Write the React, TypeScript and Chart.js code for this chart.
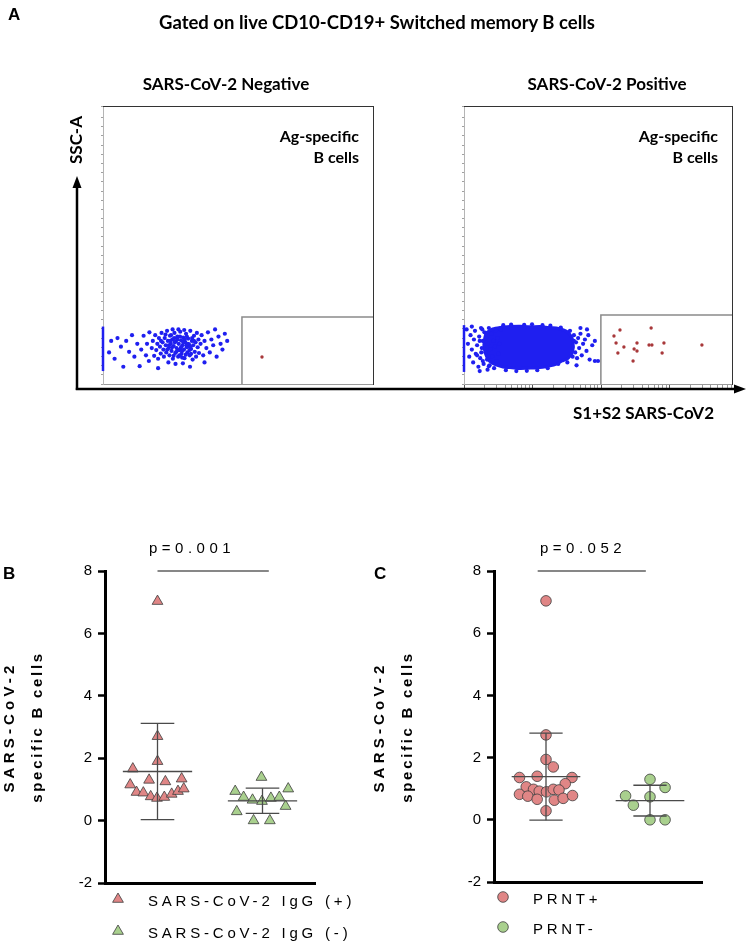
import React, { useEffect, useRef } from "react";
import { Chart, registerables } from "chart.js";

Chart.register(...registerables);

// ================= Panel A : flow cytometry dot plots (channel units) =================
const fluorChannelMax = 1024;
const sscChannelMax = 968;

// SARS-CoV-2 Negative donor
const negCloud: number[][] = [
  [23, 110], [31, 150], [44, 88], [55, 160], [68, 130], [77, 60], [88, 150], [99, 112], [110, 170],
  [119, 95], [130, 140], [139, 62], [145, 120], [154, 168], [163, 100], [167, 140], [174, 80], [176, 180],
  [185, 125], [189, 150], [194, 98], [198, 170], [202, 118], [206, 140], [209, 88], [212, 160], [216, 130],
  [219, 106], [222, 178], [226, 145], [229, 120], [231, 95], [234, 160], [238, 135], [240, 110], [243, 185],
  [246, 150], [249, 125], [252, 100], [254, 168], [257, 140], [260, 115], [263, 155], [265, 88], [268, 132],
  [271, 178], [274, 108], [276, 148], [279, 125], [282, 165], [285, 95], [287, 140], [290, 118], [293, 182],
  [296, 152], [298, 105], [301, 135], [304, 162], [307, 120], [309, 90], [312, 145], [315, 175], [318, 128],
  [320, 110], [323, 158], [326, 138], [329, 100], [331, 185], [334, 122], [337, 150], [340, 85], [342, 135],
  [345, 168], [348, 112], [351, 145], [353, 95], [356, 178], [359, 128], [362, 155], [364, 108],
  [264, 190], [286, 190], [308, 188], [248, 75], [275, 70], [303, 72], [220, 150], [237, 172], [270, 160],
  [314, 102], [370, 140], [374, 170], [380, 100], [385, 150], [392, 125], [398, 180], [405, 110], [411, 155],
  [418, 135], [425, 190], [431, 95], [438, 165], [446, 140], [453, 120], [462, 175], [471, 150], [330, 60],
  [209, 55], [385, 75],
  [250, 135], [262, 128], [272, 145], [285, 118], [296, 128], [305, 145], [316, 135], [328, 118], [338, 160],
  [258, 170], [278, 112], [292, 165], [300, 115], [310, 155], [322, 140], [334, 105], [345, 150], [268, 98],
  [282, 155], [300, 92], [244, 120], [256, 150], [290, 100], [318, 165], [330, 130],
];
const negAxisPile: number[][] = [[0, 45], [0, 200]];
const negAntigenSpecific: number[][] = [[603, 94]];
const negGate: number[][] = [[527, 0], [527, 233], [1024, 233]];

// SARS-CoV-2 Positive donor
const posDenseCore: number[][] = [
  [84, 178], [110, 192], [138, 197], [175, 200], [214, 201], [250, 199], [290, 200], [322, 197], [352, 195],
  [380, 188], [400, 178], [413, 160], [418, 129], [412, 105], [395, 88], [375, 80], [350, 68], [329, 63],
  [300, 58], [271, 56], [240, 55], [206, 54], [175, 57], [149, 59], [125, 66], [107, 73], [92, 85],
  [84, 101], [78, 120], [76, 136], [79, 158], [84, 178],
];
const posCloud: number[][] = [
  [10, 190], [15, 140], [20, 95], [25, 170], [30, 120], [35, 75], [38, 155], [42, 185], [45, 105], [50, 135],
  [55, 60], [58, 165], [62, 90], [65, 195], [68, 125], [72, 150], [75, 70], [78, 180], [82, 110], [85, 160],
  [88, 85], [92, 140], [95, 195], [98, 65], [100, 120], [105, 175], [108, 95], [112, 150], [115, 55], [118, 130],
  [122, 185], [125, 80], [128, 160], [132, 105], [135, 140], [60, 45], [90, 50], [140, 190], [30, 200], [50, 100],
  [420, 170], [425, 110], [428, 145], [432, 90], [436, 160], [440, 125], [445, 175], [450, 100], [455, 140],
  [462, 155], [468, 115], [475, 170], [480, 85], [490, 135], [500, 150], [500, 80], [512, 80], [430, 65],
  [445, 195], [470, 190],
  [150, 205], [180, 207], [230, 206], [260, 208], [300, 205], [330, 203], [370, 196],
  [160, 48], [200, 45], [240, 46], [280, 48], [320, 55], [360, 70],
  [70, 190], [60, 150], [66, 110], [72, 80], [95, 62], [405, 185], [420, 150], [415, 95], [395, 75],
];
const posAxisPile: number[][] = [[0, 42], [0, 205]];
const posAntigenSpecific: number[][] = [
  [573, 167], [596, 188], [581, 143], [611, 129], [588, 108], [646, 80], [650, 122], [661, 115],
  [661, 143], [715, 195], [707, 136], [718, 136], [764, 143], [757, 108], [909, 136],
];
const posGate: number[][] = [[523, 0], [523, 240], [1024, 240]];

// log-scale tick marks of the fluorescence axis
const logDecades = [100, 1000, 10000, 100000];
const logMultipliers = [1, 2, 3, 4, 5, 6, 7, 8, 9];
const logAxisMin = 100;
const logAxisMax = 816000;

// ================= Panels B and C : [position, value] =================
const yTickValues = [-2, 0, 2, 4, 6, 8];
const groupCenters = [1, 3];

const bLegendLabels = ["SARS-CoV-2 IgG (+)", "SARS-CoV-2 IgG (-)"];
const bIgGPositive: number[][] = [
  [1.0, 7.03], [1.0, 2.7], [0.53, 1.66], [1.0, 1.9], [0.48, 1.15], [0.84, 1.3], [1.15, 1.25], [1.46, 1.34],
  [0.6, 0.91], [0.73, 0.89], [0.87, 0.77], [0.99, 0.72], [1.13, 0.75], [1.27, 0.85], [1.39, 0.94], [1.5, 1.02],
];
const bIgGNegative: number[][] = [
  [2.98, 1.39], [2.48, 0.94], [2.64, 0.75], [2.81, 0.66], [2.99, 0.62], [3.16, 0.72], [3.32, 0.75],
  [3.49, 1.02], [3.44, 0.46], [2.51, 0.29], [2.83, 0.0], [3.14, 0.0],
];
const bPValueText = "p=0.001";
const bBracket = [1.0, 3.12];
const bracketLevel = 8;

const cLegendLabels = ["PRNT+", "PRNT-"];
const cPrntPositive: number[][] = [
  [1.0, 7.04], [1.0, 2.73], [1.0, 1.94], [1.14, 1.7], [0.49, 1.36], [0.83, 1.4], [1.5, 1.36], [1.37, 1.16],
  [0.62, 1.06], [0.76, 0.98], [0.87, 0.92], [1.01, 0.9], [1.14, 0.98], [1.25, 0.96], [0.49, 0.82],
  [0.65, 0.76], [0.83, 0.66], [1.16, 0.63], [1.33, 0.69], [1.51, 0.78], [1.0, 0.29],
];
const cPrntNegative: number[][] = [
  [3.0, 1.3], [2.53, 0.77], [2.68, 0.47], [3.0, 0.74], [3.29, 1.04], [3.0, 0.0], [3.29, 0.0],
];
const cPValueText = "p=0.052";
const cBracket = [0.84, 2.92];

// ================= styles =================
const BLUE = "#1f1ff0";
const GATE_RED = "#a8383a";
const PINK = "#e08686";
const GREEN = "#a9d08e";
const ARIAL = "'Liberation Sans', Arial, sans-serif";
const CALIBRI = "Lato, 'Open Sans', sans-serif";

const pts = (arr: number[][]) => arr.map(([x, y]) => ({ x, y }));

function hiddenAxis(position: string, color: string, width: number) {
  const horizontal = position === "top" || position === "bottom";
  return {
    type: "linear",
    position,
    display: true,
    min: 0,
    max: 1,
    ticks: { display: false },
    grid: { display: false },
    border: { display: true, color, width },
    afterFit: (s: any) => {
      if (horizontal) s.height = 0;
      else s.width = 0;
    },
  };
}

function flowConfig(
  cloud: number[][],
  pile: number[][],
  core: number[][] | null,
  ag: number[][],
  gate: number[][],
  withLogTicks: boolean
): any {
  const datasets: any[] = [];
  if (core) {
    datasets.push({
      data: pts(core), showLine: true, fill: "shape", tension: 0.12,
      backgroundColor: BLUE, borderColor: BLUE, borderWidth: 3, pointRadius: 0, order: 3, clip: false,
    });
  }
  datasets.push({ data: pts(cloud), pointRadius: 2.1, borderWidth: 0, backgroundColor: BLUE, order: 2, clip: false });
  datasets.push({ data: pts(pile), showLine: true, borderColor: BLUE, borderWidth: 2.5, pointRadius: 0, order: 2, clip: false });
  datasets.push({ data: pts(gate), showLine: true, borderColor: "#8a8a8a", borderWidth: 1.5, pointRadius: 0, order: 1, clip: false });
  datasets.push({ data: pts(ag), pointRadius: 1.7, borderWidth: 0, backgroundColor: GATE_RED, order: 0, clip: false });

  const scales: any = {
    x: {
      type: "linear", position: "bottom", min: 0, max: fluorChannelMax, display: true,
      ticks: { display: false }, grid: { display: false },
      border: { display: true, color: "#9a9a9a", width: 1 },
      afterFit: (s: any) => { s.height = 0; },
    },
    y: {
      type: "linear", min: 0, max: sscChannelMax, display: true,
      ticks: { display: false, stepSize: 32 },
      grid: { display: true, drawOnChartArea: false, drawTicks: true, tickLength: 2, tickColor: "#a0a0a0", tickWidth: 1 },
      border: { display: true, color: "#b5b5b5", width: 1 },
      afterFit: (s: any) => { s.width = 0; },
    },
    xTop: hiddenAxis("top", "#333", 1),
    yRight: hiddenAxis("right", "#333", 1),
  };
  if (withLogTicks) {
    scales.xLog = {
      type: "logarithmic", position: "bottom", min: logAxisMin, max: logAxisMax, display: true,
      ticks: { display: false },
      afterBuildTicks: (s: any) => {
        const vals: any[] = [];
        logDecades.forEach((d) => logMultipliers.forEach((m) => {
          const v = d * m;
          if (v >= logAxisMin && v <= logAxisMax) vals.push({ value: v, major: m === 1 });
        }));
        s.ticks = vals;
      },
      grid: {
        display: true, drawOnChartArea: false, drawTicks: true, tickLength: 4, tickWidth: 1,
        tickColor: (c: any) => (c.tick && c.tick.major ? "#555" : "#9a9a9a"),
      },
      border: { display: false },
      afterFit: (s: any) => { s.height = 0; },
    };
  }
  return {
    type: "scatter",
    data: { datasets },
    options: {
      responsive: false, animation: false, events: [],
      layout: { padding: 10 },
      plugins: { legend: { display: false }, tooltip: { enabled: false } },
      scales,
    },
  };
}

function meanSd(values: number[]) {
  const n = values.length;
  const m = values.reduce((a, b) => a + b, 0) / n;
  const sd = Math.sqrt(values.reduce((a, v) => a + (v - m) * (v - m), 0) / (n - 1));
  return { m, sd };
}

function statDatasets(points: number[][], center: number) {
  const { m, sd } = meanSd(points.map((p) => p[1]));
  const seg = (data: any[]) => ({
    data, showLine: true, pointRadius: 0, borderColor: "#4a4a4a", borderWidth: 1.3, order: 0, clip: false,
  });
  return [
    seg([{ x: center - 0.66, y: m }, { x: center + 0.66, y: m }]),
    seg([{ x: center, y: m - sd }, { x: center, y: m + sd }]),
    seg([{ x: center - 0.32, y: m + sd }, { x: center + 0.32, y: m + sd }]),
    seg([{ x: center - 0.32, y: m - sd }, { x: center + 0.32, y: m - sd }]),
  ];
}

function dotConfig(groupA: number[][], groupB: number[][], style: string, radius: number, bracket: number[]): any {
  const datasets: any[] = [
    ...statDatasets(groupA, groupCenters[0]),
    ...statDatasets(groupB, groupCenters[1]),
    {
      data: pts([[bracket[0], bracketLevel], [bracket[1], bracketLevel]]),
      showLine: true, pointRadius: 0, borderColor: "#111", borderWidth: 1.2, order: 0, clip: false,
    },
    {
      data: pts(groupA), pointStyle: style, pointRadius: radius, backgroundColor: PINK,
      borderColor: "#3c3c3c", borderWidth: 0.8, order: 2, clip: false,
    },
    {
      data: pts(groupB), pointStyle: style, pointRadius: radius, backgroundColor: GREEN,
      borderColor: "#3c3c3c", borderWidth: 0.8, order: 2, clip: false,
    },
  ];
  return {
    type: "scatter",
    data: { datasets },
    options: {
      responsive: false, animation: false, events: [],
      layout: { padding: { top: 20, right: 20, bottom: 20, left: 0 } },
      plugins: { legend: { display: false }, tooltip: { enabled: false } },
      scales: {
        x: {
          type: "linear", min: 0, max: 4, display: true,
          ticks: { display: false }, grid: { display: false },
          border: { display: true, color: "#000", width: 3 },
          afterFit: (s: any) => { s.height = 0; },
        },
        y: {
          type: "linear", min: -2, max: 8,
          afterBuildTicks: (s: any) => { s.ticks = yTickValues.map((v) => ({ value: v })); },
          ticks: { font: { family: ARIAL, size: 15 }, color: "#000", padding: 6 },
          grid: { display: true, drawOnChartArea: false, drawTicks: true, tickLength: 7, tickWidth: 2.5, tickColor: "#000" },
          border: { display: true, color: "#000", width: 3 },
          afterFit: (s: any) => { s.width = 45; },
        },
      },
    },
  };
}

function ChartCanvas({ left, top, width, height, make }: { left: number; top: number; width: number; height: number; make: () => any }) {
  const ref = useRef<HTMLCanvasElement>(null);
  useEffect(() => {
    const chart = new Chart(ref.current as HTMLCanvasElement, make());
    return () => chart.destroy();
  }, []);
  return (
    <canvas
      ref={ref}
      width={width}
      height={height}
      style={{ position: "absolute", left, top, width, height }}
    />
  );
}

type LabelProps = {
  x: number; y: number; text: string; size: number; family: string; bold?: boolean;
  anchor?: "start" | "middle" | "end"; rotate?: boolean; spacing?: number;
};
function Label({ x, y, text, size, family, bold, anchor = "start", rotate, spacing = 0 }: LabelProps) {
  const tx = anchor === "middle" ? "-50%" : anchor === "end" ? "-100%" : "0";
  return (
    <div
      style={{
        position: "absolute", left: x, top: y, whiteSpace: "nowrap",
        fontFamily: family, fontSize: size, fontWeight: bold ? 700 : 400, lineHeight: `${Math.round(size * 1.2)}px`,
        letterSpacing: spacing, color: "#000",
        transform: rotate ? "translate(-50%, -50%) rotate(-90deg)" : `translate(${tx}, -50%)`,
      }}
    >
      {text}
    </div>
  );
}

const flowTop = 106;
const flowBottom = 384;

export default function App() {
  return (
    <div style={{ position: "absolute", left: 0, top: 0, width: 747, height: 941, background: "#fff", overflow: "hidden" }}>
      {/* Panel A */}
      <ChartCanvas left={93} top={flowTop - 10} width={290} height={flowBottom + 10 - (flowTop - 10)}
        make={() => flowConfig(negCloud, negAxisPile, null, negAntigenSpecific, negGate, false)} />
      <ChartCanvas left={454} top={flowTop - 10} width={288} height={flowBottom + 10 - (flowTop - 10)}
        make={() => flowConfig(posCloud, posAxisPile, posDenseCore, posAntigenSpecific, posGate, true)} />

      {/* Panel B */}
      <ChartCanvas left={60} top={551} width={275} height={352}
        make={() => dotConfig(bIgGPositive, bIgGNegative, "triangle", 6.2, bBracket)} />
      {/* Panel C */}
      <ChartCanvas left={449} top={551} width={273} height={351}
        make={() => dotConfig(cPrntPositive, cPrntNegative, "circle", 5.3, cBracket)} />

      <svg width={747} height={941} style={{ position: "absolute", left: 0, top: 0, pointerEvents: "none" }}>
        <line x1={77} y1={390} x2={77} y2={186} stroke="#000" strokeWidth={2.5} />
        <polygon points="77,176 72.5,188 81.5,188" fill="#000" />
        <line x1={75.8} y1={389} x2={736} y2={389} stroke="#000" strokeWidth={2.5} />
        <polygon points="746,389 734,384.5 734,393.5" fill="#000" />
        {/* legend markers */}
        <polygon points="118,893 123.4,902.3 112.6,902.3" fill={PINK} stroke="#3c3c3c" strokeWidth={0.8} />
        <polygon points="118,925 123.4,934.3 112.6,934.3" fill={GREEN} stroke="#3c3c3c" strokeWidth={0.8} />
        <circle cx={503} cy={897} r={5.3} fill={PINK} stroke="#3c3c3c" strokeWidth={0.8} />
        <circle cx={503} cy={927} r={5.3} fill={GREEN} stroke="#3c3c3c" strokeWidth={0.8} />
      </svg>

      <Label x={8} y={15} text="A" size={17} family={ARIAL} bold />
      <Label x={377} y={22} text="Gated on live CD10-CD19+ Switched memory B cells" size={18.5} family={CALIBRI} bold anchor="middle" />
      <Label x={226} y={84} text="SARS-CoV-2 Negative" size={17} family={CALIBRI} bold anchor="middle" />
      <Label x={607} y={84} text="SARS-CoV-2 Positive" size={17} family={CALIBRI} bold anchor="middle" />
      <Label x={359} y={135} text="Ag-specific" size={16} family={CALIBRI} bold anchor="end" />
      <Label x={359} y={156} text="B cells" size={16} family={CALIBRI} bold anchor="end" />
      <Label x={718} y={135} text="Ag-specific" size={16} family={CALIBRI} bold anchor="end" />
      <Label x={718} y={156} text="B cells" size={16} family={CALIBRI} bold anchor="end" />
      <Label x={76} y={140} text="SSC-A" size={17} family={CALIBRI} bold rotate />
      <Label x={573} y={413} text="S1+S2 SARS-CoV2" size={17} family={CALIBRI} bold />

      <Label x={3} y={574} text="B" size={17} family={ARIAL} bold />
      <Label x={9} y={727} text="SARS-CoV-2" size={15} family={ARIAL} bold rotate spacing={4.2} />
      <Label x={37} y={727} text="specific B cells" size={15} family={ARIAL} bold rotate spacing={2.7} />
      <Label x={149} y={548} text={bPValueText} size={15} family={ARIAL} spacing={4.5} />
      <Label x={148} y={901} text={bLegendLabels[0]} size={15} family={ARIAL} spacing={3.8} />
      <Label x={148} y={933} text={bLegendLabels[1]} size={15} family={ARIAL} spacing={3.8} />

      <Label x={374} y={574} text="C" size={17} family={ARIAL} bold />
      <Label x={379} y={727} text="SARS-CoV-2" size={15} family={ARIAL} bold rotate spacing={4.2} />
      <Label x={407} y={727} text="specific B cells" size={15} family={ARIAL} bold rotate spacing={2.7} />
      <Label x={540} y={548} text={cPValueText} size={15} family={ARIAL} spacing={4.5} />
      <Label x={533} y={899} text={cLegendLabels[0]} size={15} family={ARIAL} spacing={3.7} />
      <Label x={533} y={929} text={cLegendLabels[1]} size={15} family={ARIAL} spacing={3.7} />
    </div>
  );
}
